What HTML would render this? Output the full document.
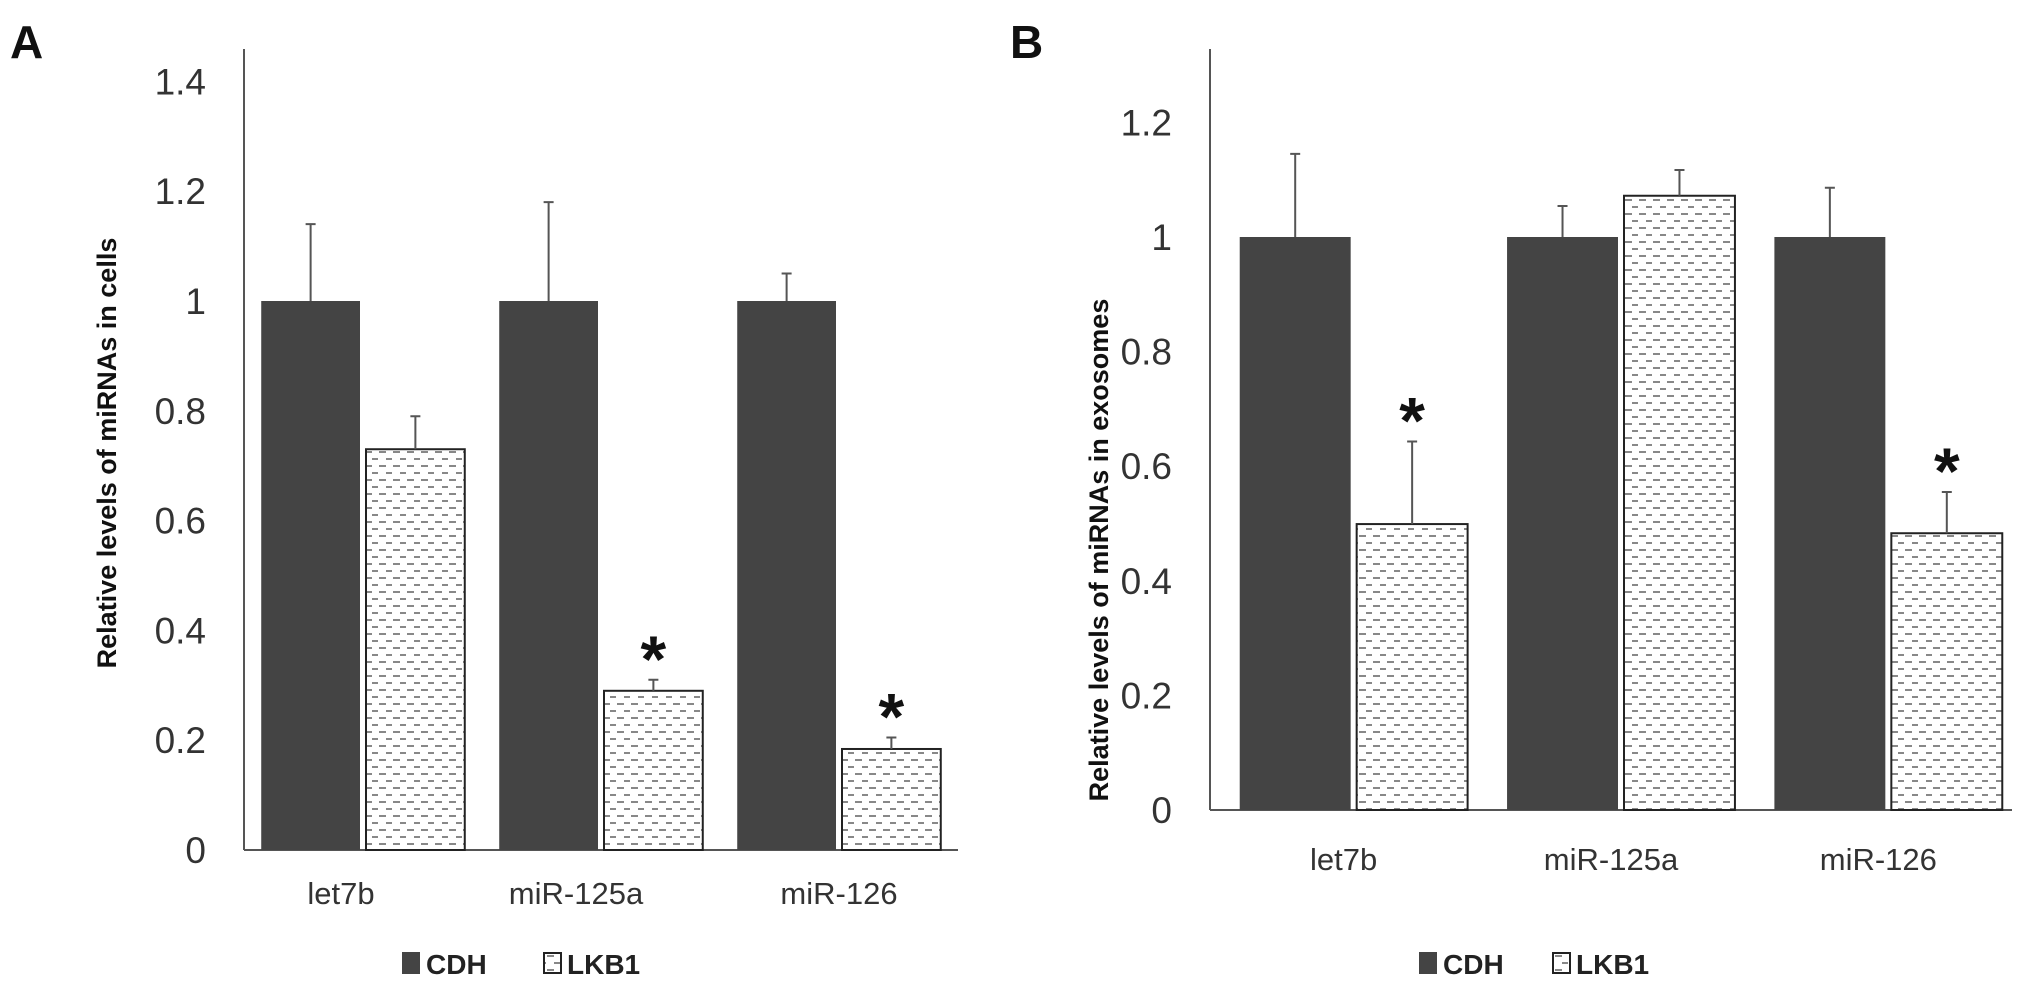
<!DOCTYPE html>
<html><head><meta charset="utf-8"><style>
body{margin:0;background:#fff}
svg text{font-family:"Liberation Sans",sans-serif}
</style></head><body>
<svg width="2031" height="989" viewBox="0 0 2031 989" xmlns="http://www.w3.org/2000/svg">
<defs>
<pattern id="dash" width="14" height="14" patternUnits="userSpaceOnUse">
<rect width="14" height="14" fill="#fff"/>
<rect x="1" y="3" width="7" height="2" fill="#888"/>
<rect x="8" y="10" width="7" height="2" fill="#888"/>
</pattern>
</defs>
<g id="chart"></g>
</svg>
<script>
const categories = ["let7b","miR-125a","miR-126"];
const aCDH = [1,1,1];
const aCDHErr = [0.14,0.18,0.05];
const aLKB1 = [0.73,0.29,0.184];
const aLKB1Err = [0.06,0.02,0.021];
const aSig = [false,true,true];
const aTicks = [0,0.2,0.4,0.6,0.8,1,1.2,1.4];
const aTickLabels = ["0","0.2","0.4","0.6","0.8","1","1.2","1.4"];
const bCDH = [1,1,1];
const bCDHErr = [0.145,0.054,0.086];
const bLKB1 = [0.499,1.072,0.483];
const bLKB1Err = [0.144,0.045,0.072];
const bSig = [true,false,true];
const bTicks = [0,0.2,0.4,0.6,0.8,1,1.2];
const bTickLabels = ["0","0.2","0.4","0.6","0.8","1","1.2"];

const NS="http://www.w3.org/2000/svg";
const root=document.getElementById('chart');
function mk(tag,attrs,parent,text){const e=document.createElementNS(NS,tag);for(const k in attrs)e.setAttribute(k,attrs[k]);if(text!==undefined)e.textContent=text;(parent||root).appendChild(e);return e;}

function panel(p){
  const g=mk('g',{});
  
  
  const y=v=>p.y0-v*p.unit;
  const groupW=(p.xEnd-p.x0)/3;
  const barW=groupW*0.415;
  let ax=mk('line',{x1:p.x0,y1:p.top,x2:p.x0,y2:p.y0,stroke:'#555','stroke-width':2},g);
  
  
  ax=mk('line',{x1:p.x0,y1:p.y0,x2:p.xEnd,y2:p.y0,stroke:'#555','stroke-width':2},g);
  
  
  p.ticks.forEach((t,i)=>{
    const tl=mk('text',{x:p.x0-38,y:y(t)+13,'text-anchor':'end','font-size':37,fill:'#333'},g,p.tickLabels[i]);
    
    
  });
  categories.forEach((c,i)=>{
    const gx=p.x0+p.barShift+groupW*i+groupW*0.5;
    const x1=gx-barW-3, x2=gx+3;
    const b1=mk('rect',{x:x1,y:y(p.cdh[i]),width:barW,height:p.cdh[i]*p.unit,fill:'#444'},g);
    
    
    const b2=mk('rect',{x:x2,y:y(p.lkb[i]),width:barW,height:p.lkb[i]*p.unit,fill:'url(#dash)',stroke:'#222','stroke-width':2},g);
    
    
    [[x1+barW/2,p.cdh[i],p.cdhErr[i]],[x2+barW/2,p.lkb[i],p.lkbErr[i]]].forEach(([cx,v,e])=>{
      const eb=mk('path',{d:`M${cx},${y(v)}V${y(v+e)}M${cx-5},${y(v+e)}H${cx+5}`,stroke:'#555','stroke-width':2,fill:'none'},g);
      
      
    });
    if(p.sig[i]){
      const s=mk('text',{x:x2+barW/2,y:y(p.lkb[i]+p.lkbErr[i])+2,'text-anchor':'middle','font-size':66,'font-weight':'bold',fill:'#111'},g,'*');
      
      
    }
    const cl=mk('text',{x:gx+p.labelShift[i],y:p.catY,'text-anchor':'middle','font-size':31,fill:'#333'},g,c);
    
    
  });
  const yt=mk('text',{x:0,y:0,transform:`translate(${p.titleX},${p.titleY}) rotate(-90)`,'text-anchor':'middle','font-size':27,'font-weight':'bold',fill:'#111'},g,p.title);
  
  
  const lt=mk('text',{x:p.letterX,y:58,'font-size':46,'font-weight':'bold',fill:'#111'},g,p.letter);
  
  
  const lg=mk('g',{},g);
  
  
  const e1=mk('rect',{x:p.legX,y:952,width:18,height:22,fill:'#444'},lg);
  
  
  const t1=mk('text',{x:p.legX+24,y:974,'font-size':28,'font-weight':'bold',fill:'#222'},lg,'CDH');
  
  
  const e2=mk('rect',{x:p.legX+p.leg2,y:953,width:17,height:20,fill:'url(#dash)',stroke:'#222','stroke-width':2},lg);
  
  
  const t2=mk('text',{x:p.legX+p.leg2+23,y:974,'font-size':28,'font-weight':'bold',fill:'#222'},lg,'LKB1');
  
  
}
panel({id:'a',x0:244,xEnd:958,barShift:0,labelShift:[-22,-25,0],y0:850,top:49,unit:549,cdh:aCDH,cdhErr:aCDHErr,lkb:aLKB1,lkbErr:aLKB1Err,sig:aSig,ticks:aTicks,tickLabels:aTickLabels,catY:904,title:'Relative levels of miRNAs in cells',titleX:116,titleY:453,letter:'A',letterX:10,legX:402,leg2:142});
panel({id:'b',x0:1210,xEnd:2012,barShift:10,labelShift:[-10,-10,-10],y0:810,top:49,unit:573,cdh:bCDH,cdhErr:bCDHErr,lkb:bLKB1,lkbErr:bLKB1Err,sig:bSig,ticks:bTicks,tickLabels:bTickLabels,catY:870,title:'Relative levels of miRNAs in exosomes',titleX:1108,titleY:550,letter:'B',letterX:1010,legX:1419,leg2:134});
</script>
</body></html>
